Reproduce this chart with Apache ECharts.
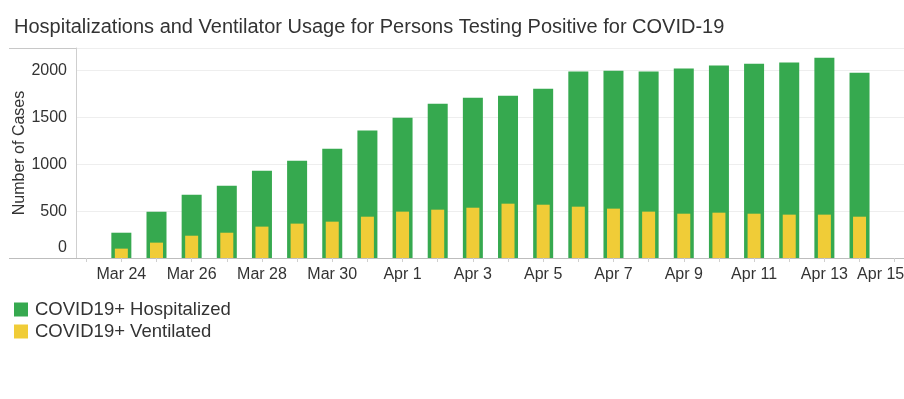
<!DOCTYPE html>
<html lang="en">
    <head>
        <meta charset="UTF-8" />
        <title>Hospitalizations and Ventilator Usage</title>
        <script src="https://cdn.jsdelivr.net/npm/echarts@6/dist/echarts.min.js"></script>
        <style>
            html, body { margin: 0; padding: 0; background: #fff; }
            #chart { width: 904px; height: 399px; }
        </style>
    </head>
    <body>
        <div id="chart"></div>
        <script>
            const dates = [
                "2020-03-24", "2020-03-25", "2020-03-26", "2020-03-27", "2020-03-28",
                "2020-03-29", "2020-03-30", "2020-03-31", "2020-04-01", "2020-04-02",
                "2020-04-03", "2020-04-04", "2020-04-05", "2020-04-06", "2020-04-07",
                "2020-04-08", "2020-04-09", "2020-04-10", "2020-04-11", "2020-04-12",
                "2020-04-13", "2020-04-14",
            ];
            const hospitalized = [
                270, 495, 676, 772, 932, 1039, 1167, 1360, 1498, 1648, 1712,
                1733, 1808, 1990, 2000, 1990, 2022, 2054, 2075, 2086, 2139, 1979,
            ];
            const ventilated = [
                100, 164, 238, 270, 335, 367, 388, 441, 495, 516, 537,
                580, 569, 548, 527, 495, 473, 484, 473, 463, 463, 441,
            ];
            const yTicks = [0, 500, 1000, 1500, 2000];
            const monthNames = ["Jan", "Feb", "Mar", "Apr", "May", "Jun",
                "Jul", "Aug", "Sep", "Oct", "Nov", "Dec"];

            const DAY = 86400000;
            const font = "Liberation Sans, Arial, Helvetica, sans-serif";
            const first = new Date(2020, 2, 24).getTime();
            const last = new Date(2020, 3, 15).getTime();
            const xMin = first - 1.29 * DAY;
            const xMax = last + 0.265 * DAY;
            const plotWidth = 828;

            // echarts pads a time axis by half a bar on each side when bars sit on it,
            // so shrink min/max beforehand to land on the wanted extent
            function xRange(barWidth) {
                const pad = (xMax - xMin) * barWidth / (2 * plotWidth);
                return { min: xMin + pad, max: xMax - pad };
            }

            function dayLabel(value) {
                const d = new Date(value);
                if (d.getHours() !== 0 || d.getMinutes() !== 0) return "";
                const idx = Math.round((value - first) / DAY);
                if (idx % 2 !== 0) return "";
                const text = monthNames[d.getMonth()] + " " + d.getDate();
                // last label is pulled in to end at the plot edge
                return value === last ? "{flush|" + text + "}" : text;
            }

            const xBase = {
                type: "time",
                minInterval: DAY,
                maxInterval: DAY,
                splitLine: { show: false },
            };

            const chart = echarts.init(document.getElementById("chart"));
            const option = {
                animation: false,
                textStyle: { fontFamily: font },
                title: {
                    text: "Hospitalizations and Ventilator Usage for Persons Testing Positive for COVID-19",
                    left: 14,
                    top: 17,
                    padding: 0,
                    textStyle: {
                        fontFamily: font,
                        fontSize: 20,
                        fontWeight: "normal",
                        color: "#333",
                    },
                },
                legend: {
                    orient: "vertical",
                    left: 14,
                    top: 300,
                    padding: 0,
                    itemWidth: 14,
                    itemHeight: 14,
                    itemGap: 3,
                    icon: "rect",
                    textStyle: { fontFamily: font, fontSize: 18.5, color: "#333", padding: [0, 0, 0, 2] },
                    data: ["COVID19+ Hospitalized", "COVID19+ Ventilated"],
                },
                grid: {
                    left: 76,
                    top: 48,
                    width: plotWidth,
                    height: 210,
                    containLabel: false,
                    outerBoundsMode: "none",
                },
                xAxis: [
                    Object.assign({}, xBase, xRange(20), {
                        axisLine: { lineStyle: { color: "#bdbdbd", width: 1 } },
                        axisTick: { show: true, length: 4, lineStyle: { color: "#d0d0d0" } },
                        axisLabel: {
                            formatter: dayLabel,
                            fontFamily: font,
                            fontSize: 16,
                            color: "#333",
                            margin: 9,
                            hideOverlap: false,
                            rich: {
                                flush: { fontFamily: font, fontSize: 16, color: "#333", padding: [0, 28, 0, 0] },
                            },
                        },
                    }),
                    Object.assign({}, xBase, xRange(13), { show: false }),
                ],
                yAxis: {
                    type: "value",
                    min: 0,
                    max: 2242,
                    interval: 500,
                    name: "Number of Cases",
                    nameLocation: "middle",
                    nameGap: 48,
                    nameMoveOverlap: false,
                    nameTextStyle: { fontFamily: font, fontSize: 16, color: "#333" },
                    axisLine: { show: true, lineStyle: { color: "#cfcfcf" } },
                    axisTick: { show: false },
                    splitLine: { lineStyle: { color: "#eeeeee" } },
                    axisLabel: {
                        fontFamily: font,
                        fontSize: 16,
                        color: "#333",
                        margin: 9,
                        showMaxLabel: false,
                        formatter: (v) => {
                            if (yTicks.indexOf(v) < 0) return "";
                            return v === 0 ? "{zero|0}" : String(v);
                        },
                        rich: {
                            zero: { fontFamily: font, fontSize: 16, color: "#333", padding: [0, 0, 20, 0] },
                        },
                    },
                },
                graphic: [
                    {
                        type: "line",
                        shape: { x1: 9, y1: 48.5, x2: 904, y2: 48.5 },
                        style: { stroke: "#c8c8c8", lineWidth: 1 },
                        silent: true,
                    },
                    {
                        type: "line",
                        shape: { x1: 9, y1: 258.5, x2: 76, y2: 258.5 },
                        style: { stroke: "#bdbdbd", lineWidth: 1 },
                        silent: true,
                    },
                ],
                series: [
                    {
                        name: "COVID19+ Hospitalized",
                        type: "bar",
                        xAxisIndex: 0,
                        barWidth: 20,
                        itemStyle: { color: "#36a94f" },
                        data: dates.map((d, i) => [d, hospitalized[i]]),
                    },
                    {
                        name: "COVID19+ Ventilated",
                        type: "bar",
                        xAxisIndex: 1,
                        barWidth: 13,
                        itemStyle: { color: "#f0cc37" },
                        data: dates.map((d, i) => [d, ventilated[i]]),
                    },
                ],
            };
            chart.setOption(option);
        </script>
    </body>
</html>
